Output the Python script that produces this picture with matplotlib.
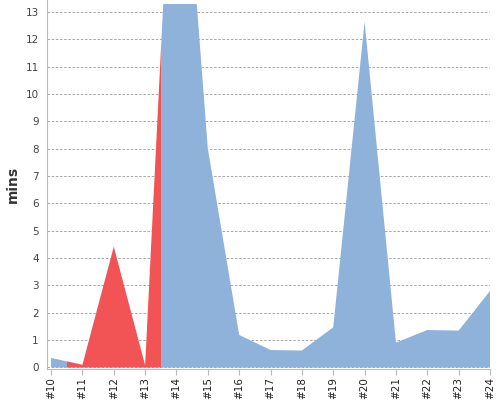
import matplotlib
matplotlib.use('Agg')
import matplotlib.pyplot as plt
from matplotlib.patches import Rectangle

# minutes per round
labels = ['#10', '#11', '#12', '#13', '#14', '#15', '#16', '#17',
          '#18', '#19', '#20', '#21', '#22', '#23', '#24']
mins = [0.35, 0.1, 4.42, 0.08, 23.0, 8.0, 1.19, 0.64, 0.62, 1.47,
        12.65, 0.91, 1.37, 1.35, 2.8]
group = ['b', 'r', 'r', 'r', 'b', 'b', 'b', 'b', 'b', 'b', 'b', 'b', 'b', 'b', 'b']
colors = {'b': '#8fb2da', 'r': '#f25355'}

x = list(range(len(labels)))

fig = plt.figure(figsize=(5, 4), dpi=100)
ax = fig.add_axes([0.094, 0.0775, 0.886, 0.9225])
ax.set_xlim(-0.13, len(labels) - 1)
ax.set_ylim(-0.055, 13.44)

# one area per run of the same group, clipped to half a step either side
start = 0
for i in range(1, len(group) + 1):
    if i == len(group) or group[i] != group[start]:
        poly = ax.fill_between(x, 0, mins, color=colors[group[start]], lw=0, zorder=2)
        clip = Rectangle((start - 0.5, -1), i - start, 14.3, transform=ax.transData)
        poly.set_clip_path(clip)
        start = i

ax.set_yticks(range(0, 14))
ax.yaxis.grid(True, color='#999999', linestyle=(0, (3, 2)), linewidth=0.6, zorder=1)
ax.set_axisbelow(True)
ax.set_xticks(x)
ax.set_xticklabels(labels, rotation=90, fontsize=7.5, color='#222222')
ax.tick_params(axis='y', length=0, pad=6, labelsize=7.5, labelcolor='#444444')
ax.tick_params(axis='x', length=4, color='#bbbbbb', pad=2)

for s in ['top', 'right']:
    ax.spines[s].set_visible(False)
for s in ['left', 'bottom']:
    ax.spines[s].set_color('#bbbbbb')

ax.set_ylabel('mins', fontsize=10, fontweight='bold', color='#333333', labelpad=4)

fig.savefig('out.png', dpi=100)
